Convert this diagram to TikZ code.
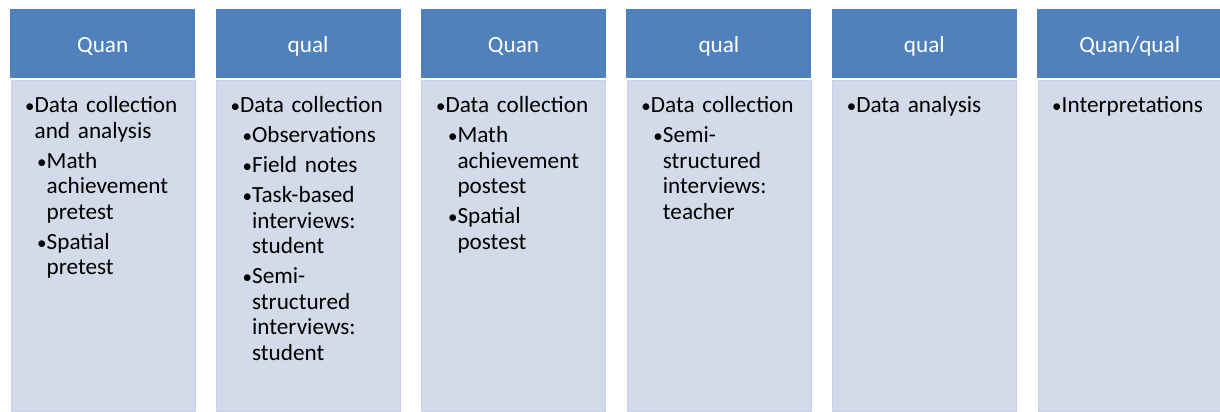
\documentclass[tikz,border=0pt]{standalone}
\usepackage{fontspec}
\setmainfont{Carlito}
\usetikzlibrary{positioning}

\definecolor{headblue}{HTML}{4F81BD}
\definecolor{bodyblue}{HTML}{D3DAE9}
\definecolor{bodyline}{HTML}{C8D2E6}

\newcommand\stepfont{\fontsize{23.2}{25.5}\selectfont}
\newcommand\dotmark{\makebox[10pt][l]{\hspace{0.5pt}{\fontsize{19}{19}\selectfont\textbullet}}}
% first level bullet
\newcommand\ptA[1]{\par\addvspace{4.5pt}\noindent\hangindent=10pt\hangafter=1\strut\dotmark #1\par}
% second level bullet
\newcommand\ptB[1]{\par\addvspace{4.5pt}\noindent\hangindent=22pt\hangafter=1\strut\hspace*{12pt}\dotmark #1\par}

\tikzset{
  every head/.style={rectangle, fill=headblue, text=white, font=\stepfont,
    minimum width=185pt, minimum height=69pt, inner sep=0pt, anchor=north west,
    text height=17pt, text depth=0pt},
  every body/.style={rectangle, fill=bodyblue, draw=bodyline, line width=1pt,
    minimum width=184pt, minimum height=331pt, inner sep=0pt, anchor=north west},
  every list/.style={anchor=north west, inner sep=0pt, text width=180pt, font=\stepfont}
}

\begin{document}
\begin{tikzpicture}[x=1pt, y=-1pt]

\useasboundingbox (0,0) rectangle (1220,412);

% define phase boxes
\foreach \h [count=\i from 0] in {Quan, qual, Quan, qual, qual, Quan/qual}
{
  \node [every body] (body-\i) at (10.5+205.4*\i,79.5) {};
  \node [every head] (head-\i) at (10+205.4*\i,9) {\h};
}

% define phase contents
\node [every list] (list-0) at ([xshift=14pt, yshift=-3pt]body-0.north west)
  {\ptA{Data collection\newline and analysis}\ptB{Math\newline achievement\newline pretest}%
   \ptB{Spatial\newline pretest}};
\node [every list] (list-1) at ([xshift=14pt, yshift=-3pt]body-1.north west)
  {\ptA{Data collection}\ptB{Observations}\ptB{Field notes}%
   \ptB{Task-based\newline interviews:\newline student}%
   \ptB{Semi-\newline structured\newline interviews:\newline student}};
\node [every list] (list-2) at ([xshift=14pt, yshift=-3pt]body-2.north west)
  {\ptA{Data collection}\ptB{Math\newline achievement\newline postest}\ptB{Spatial\newline postest}};
\node [every list] (list-3) at ([xshift=14pt, yshift=-3pt]body-3.north west)
  {\ptA{Data collection}\ptB{Semi-\newline structured\newline interviews:\newline teacher}};
\node [every list] (list-4) at ([xshift=14pt, yshift=-3pt]body-4.north west)
  {\ptA{Data analysis}};
\node [every list] (list-5) at ([xshift=14pt, yshift=-3pt]body-5.north west)
  {\ptA{Interpretations}};

\end{tikzpicture}
\end{document}
